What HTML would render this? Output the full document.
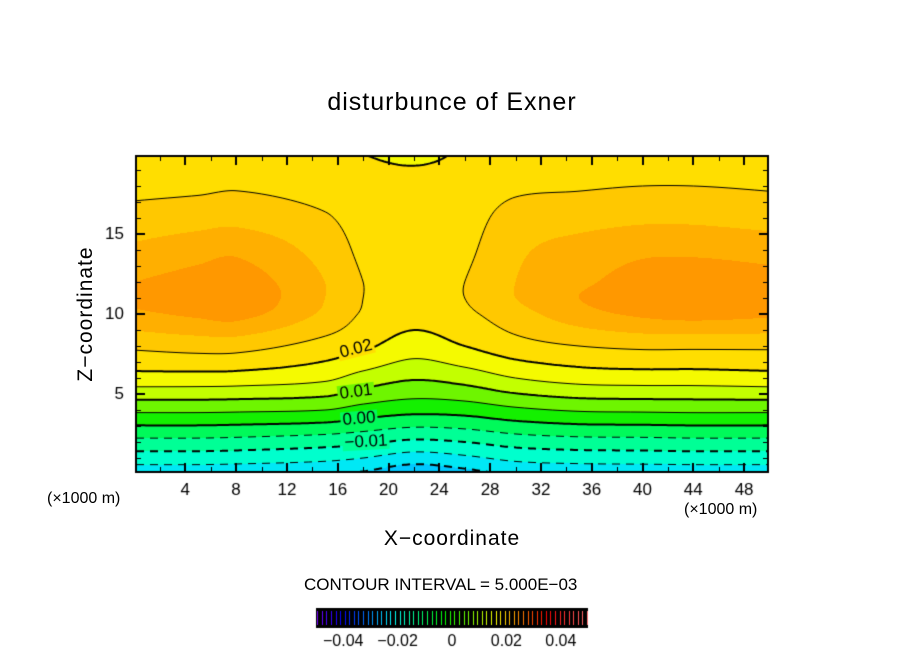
<!DOCTYPE html>
<html><head><meta charset="utf-8"><style>
html,body{margin:0;padding:0;background:#fff;}
body{width:904px;height:654px;position:relative;overflow:hidden;font-family:"Liberation Sans",sans-serif;}
.t{position:absolute;color:#000;white-space:nowrap;}
</style></head><body>
<div class="t" style="left:0;width:904px;text-align:center;top:88px;font-size:25px;letter-spacing:1px;">disturbunce of Exner</div>
<canvas id="cv" width="904" height="654" style="position:absolute;left:0;top:0;"></canvas>
<div class="t" style="left:0;width:904px;text-align:center;top:527px;font-size:21px;letter-spacing:1px;">X−coordinate</div>
<div class="t" style="left:86px;top:314px;font-size:21px;letter-spacing:1px;transform:translate(-50%,-50%) rotate(-90deg);">Z−coordinate</div>
<div class="t" style="left:47px;top:490px;font-size:16px;">(×1000 m)</div>
<div class="t" style="left:684px;top:501px;font-size:16px;">(×1000 m)</div>
<div class="t" style="left:304px;top:575px;font-size:17px;">CONTOUR INTERVAL = 5.000E−03</div>
<script>
// grid data
const xs = [0,5,8,15,18,22,26,30,35,40,44,50];
const zs = [0,2,4,6,8,10,11,12,14,16,18,20];
// each row: values at zs for one x column
const col0  = [-0.0185,-0.0065,0.006,0.018,0.026,0.034,0.036,0.035,0.031,0.027,0.0235,0.0215];
const col5  = [-0.0185,-0.0065,0.006,0.018,0.027,0.036,0.038,0.037,0.033,0.028,0.024,0.022];
const col8  = [-0.0187,-0.0068,0.0058,0.0178,0.027,0.037,0.039,0.038,0.034,0.0285,0.0245,0.022];
const col15 = [-0.0195,-0.008,0.005,0.016,0.023,0.029,0.030,0.030,0.028,0.0255,0.023,0.021];
const col18 = [-0.021,-0.009,0.003,0.013,0.021,0.0245,0.025,0.025,0.024,0.023,0.022,0.020];
const col22 = [-0.024,-0.011,0.0015,0.0105,0.0175,0.022,0.023,0.0235,0.023,0.022,0.0215,0.019];
const col26 = [-0.022,-0.010,0.002,0.012,0.020,0.024,0.025,0.025,0.024,0.023,0.022,0.0205];
const col30 = [-0.0195,-0.008,0.004,0.015,0.023,0.028,0.030,0.030,0.029,0.027,0.024,0.022];
const col35 = [-0.0188,-0.007,0.0055,0.017,0.025,0.033,0.035,0.034,0.032,0.028,0.0245,0.022];
const col40 = [-0.0186,-0.0068,0.0058,0.0175,0.026,0.036,0.038,0.037,0.034,0.029,0.025,0.022];
const col44 = [-0.0185,-0.0065,0.006,0.0175,0.026,0.037,0.039,0.038,0.034,0.029,0.025,0.022];
const col50 = [-0.0185,-0.0065,0.006,0.018,0.026,0.036,0.038,0.037,0.033,0.028,0.0245,0.022];
const cols = [col0,col5,col8,col15,col18,col22,col26,col30,col35,col40,col44,col50];
const xTicks = [4,8,12,16,20,24,28,32,36,40,44,48];
const zTicks = [5,10,15];
const cbTicks = [-0.04,-0.02,0,0.02,0.04];
const cbTickLabels = ["−0.04","−0.02","0","0.02","0.04"];
const levelLabels = [[0.02,"0.02"],[0.01,"0.01"],[0.00,"0.00"],[-0.01,"−0.01"]];

const L=136,R=768,T=156,B=472;
const X=v=>134.5+v*12.7;
const Z=v=>474-v*16;
const iX=px=>(px-134.5)/12.7;
const iZ=py=>(474-py)/16;
function cub(g,vals,v){const n=g.length;let i=0;while(i<n-2&&v>g[i+1])i++;
 let t=(v-g[i])/(g[i+1]-g[i]);t=Math.max(0,Math.min(1,t));const h=g[i+1]-g[i];
 const sl=k=>{if(k<=0)return (vals[1]-vals[0])/(g[1]-g[0]);if(k>=n-1)return (vals[n-1]-vals[n-2])/(g[n-1]-g[n-2]);return (vals[k+1]-vals[k-1])/(g[k+1]-g[k-1]);};
 const m0=sl(i)*h,m1=sl(i+1)*h,t2=t*t,t3=t2*t;
 return (2*t3-3*t2+1)*vals[i]+(t3-2*t2+t)*m0+(-2*t3+3*t2)*vals[i+1]+(t3-t2)*m1;}
function f(x,z){const c=cols.map(cc=>cub(zs,cc,z));return cub(xs,c,x);}
const bandColors=[[0,200,255],[0,232,245],[0,255,205],[0,255,150],[0,250,90],[20,240,0],[110,245,0],[195,255,0],[245,250,0],[255,222,0],[255,200,0],[255,175,0],[255,152,0],[255,128,0]];
function col(v){let k=Math.floor((v+0.025)/0.005);k=Math.max(0,Math.min(bandColors.length-1,k));return bandColors[k];}
const cv=document.getElementById('cv'),g=cv.getContext('2d');
const W=R-L,H=B-T;
const st=2;const nx=Math.ceil(W/st),nz=Math.ceil(H/st);
const V=[];for(let j=0;j<=nz;j++){V[j]=[];for(let i=0;i<=nx;i++)V[j][i]=f(iX(L+i*st),iZ(T+j*st));}
const img=g.createImageData(W,H);
for(let py=0;py<H;py++)for(let px=0;px<W;px++){
 const fj=(py+0.5)/st,fi=(px+0.5)/st,j=Math.min(nz-1,Math.floor(fj)),i=Math.min(nx-1,Math.floor(fi)),tz=fj-j,tx=fi-i;
 const v=(V[j][i]*(1-tx)+V[j][i+1]*tx)*(1-tz)+(V[j+1][i]*(1-tx)+V[j+1][i+1]*tx)*tz;
 const c=col(v);const o=(py*W+px)*4;
 img.data[o]=c[0];img.data[o+1]=c[1];img.data[o+2]=c[2];img.data[o+3]=255;}
g.putImageData(img,L,T);
g.save();g.beginPath();g.rect(L,T,W,H);g.clip();
for(let k=-4;k<=5;k++){const lv=k*0.005;
 g.beginPath();
 for(let j=0;j<nz;j++)for(let i=0;i<nx;i++){
  const p=[[i,j,V[j][i]],[i+1,j,V[j][i+1]],[i+1,j+1,V[j+1][i+1]],[i,j+1,V[j+1][i]]];const pts=[];
  for(let e=0;e<4;e++){const a=p[e],b=p[(e+1)%4];if((a[2]-lv)*(b[2]-lv)<0){const t=(lv-a[2])/(b[2]-a[2]);pts.push([L+(a[0]+(b[0]-a[0])*t)*st,T+(a[1]+(b[1]-a[1])*t)*st]);}}
  for(let q=0;q+1<pts.length;q+=2){
   if(lv<0){const xm=(pts[q][0]+pts[q+1][0])/2;if(((xm-L)%14)>8)continue;}
   g.moveTo(pts[q][0],pts[q][1]);g.lineTo(pts[q+1][0],pts[q+1][1]);}
 }
 g.strokeStyle='#000';g.lineWidth=(k%2===0)?2:1;g.lineCap='butt';g.stroke();}
g.restore();
const labPos=[[356,349,-0.25],[356,392,-0.12],[359,419,-0.08],[366,442,-0.05]];
g.font='17px "Liberation Sans",sans-serif';g.textAlign='center';g.textBaseline='middle';
levelLabels.forEach((l,n)=>{const [x,y,r]=labPos[n];g.save();g.translate(x,y);g.rotate(r);
 const w=g.measureText(l[1]).width;const c=col(f(iX(x),iZ(y)));g.fillStyle=`rgb(${c})`;g.fillRect(-w/2-2,-8,w+4,16);
 g.fillStyle='#000';g.fillText(l[1],0,0);g.restore();});
g.strokeStyle='#000';g.lineWidth=2;g.strokeRect(L,T,W,H);
g.lineWidth=1;g.beginPath();
for(let v=2;v<50;v+=2){const x=Math.round(X(v))+0.5,len=(v%4===0)?9:5;g.moveTo(x,B);g.lineTo(x,B-len);g.moveTo(x,T);g.lineTo(x,T+len);}
for(let v=1;v<20;v++){const y=Math.round(Z(v))+0.5,len=(v%5===0)?9:5;g.moveTo(L,y);g.lineTo(L+len,y);g.moveTo(R,y);g.lineTo(R-len,y);}
g.stroke();
g.beginPath();g.lineWidth=2;
xTicks.forEach(v=>{const x=Math.round(X(v));g.moveTo(x,B);g.lineTo(x,B-9);g.moveTo(x,T);g.lineTo(x,T+9);});
zTicks.forEach(v=>{const y=Math.round(Z(v));g.moveTo(L,y);g.lineTo(L+9,y);g.moveTo(R,y);g.lineTo(R-9,y);});
g.stroke();
g.fillStyle='#000';g.font='17px "Liberation Sans",sans-serif';g.textAlign='center';g.textBaseline='middle';
xTicks.forEach(v=>g.fillText(String(v),X(v),490));
g.textAlign='right';zTicks.forEach(v=>g.fillText(String(v),124,Z(v)));
const cL=316,cR=588,cT=608,cB=628,cX=v=>452+v*2720;
g.fillStyle='#000';g.fillRect(cL,cT,cR-cL,cB-cT);
for(let i=0;i<60;i++){const v=-0.0495+i*0.00168;const x=Math.round(cX(v))+0.5;const h=(v+0.05)/0.1;
 const hue=h<0.85?270-h*318:0;const light=h>0.85?50+(h-0.85)*150:50;
 g.strokeStyle=`hsl(${hue},100%,${light}%)`;g.lineWidth=1;g.beginPath();g.moveTo(x,cT+3);g.lineTo(x,cB-3);g.stroke();}
g.fillStyle='#000';g.textAlign='center';g.font='16px "Liberation Sans",sans-serif';
cbTicks.forEach((v,n)=>g.fillText(cbTickLabels[n],cX(v),642));
</script>
</body></html>
